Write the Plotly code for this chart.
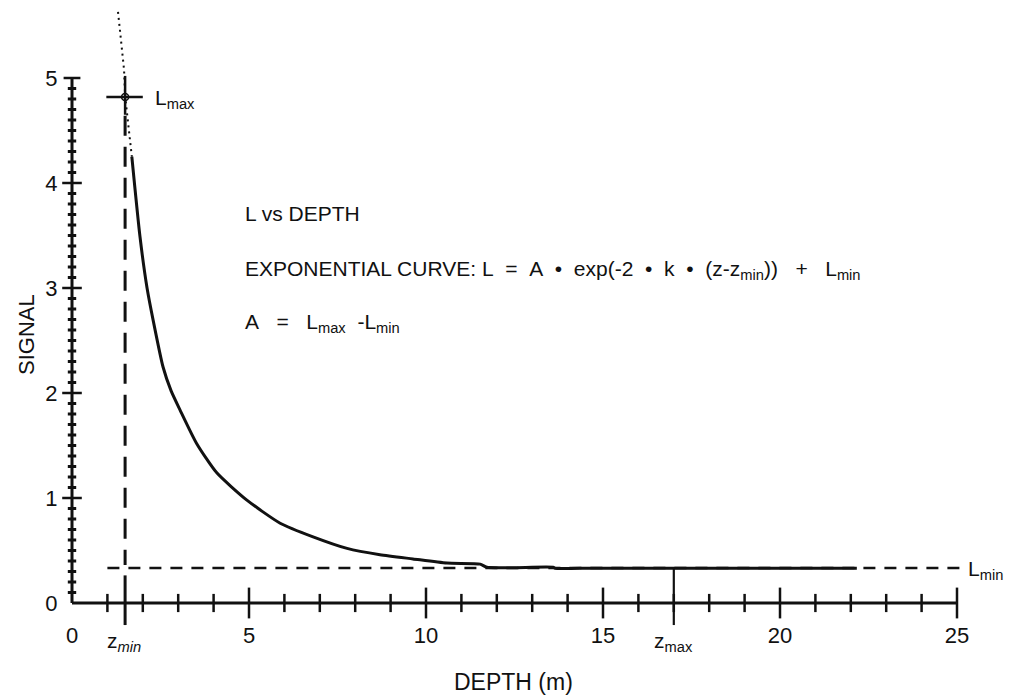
import plotly.graph_objects as go

# ---------------- data ----------------
depth_dotted = [1.30, 1.47, 1.50, 1.60, 1.69]
signal_dotted = [5.63, 5.08, 4.83, 4.52, 4.25]

depth_solid = [1.69, 1.92, 2.12, 2.30, 2.57, 2.80, 3.05, 3.52, 4.09, 4.94, 5.88, 6.81,
               7.77, 8.70, 9.63, 10.59, 11.53, 11.72, 13.59, 13.65, 14.35, 22.17]
signal_solid = [4.25, 3.49, 3.00, 2.68, 2.25, 2.02, 1.84, 1.52, 1.24, 0.98, 0.76, 0.63,
                0.52, 0.46, 0.42, 0.38, 0.37, 0.34, 0.34, 0.33, 0.33, 0.33]

Z_MIN = 1.5
Z_MAX = 17.0
L_MAX = 4.82
L_MIN = 0.333
LMIN_LINE_RANGE = [1.0, 25.1]

x_tick_major = [5, 10, 15, 20, 25]
x_tick_minor = [v for v in range(1, 25) if v % 5 != 0]
x_tick_labels = ["0", "5", "10", "15", "20", "25"]
y_tick_major = [1, 2, 3, 4]
y_tick_minor = [round(i * 0.1, 1) for i in range(1, 50) if i % 10 != 0]
y_tick_labels = ["0", "1", "2", "3", "4", "5"]

# ---------------- geometry of the page (figure sits 8px inside the window) ----------------
W, H = 1008, 692
X0_PX, X_SCALE = 64.0, 35.4     # figure pixel of depth 0, px per metre
Y0_PX, Y_SCALE = 595.0, 105.0   # figure pixel of signal 0, px per unit
x_range = [(0 - X0_PX) / X_SCALE, (W - X0_PX) / X_SCALE]
y_range = [(Y0_PX - H) / Y_SCALE, Y0_PX / Y_SCALE]

FONT = "Liberation Sans, Arial, Helvetica, sans-serif"
BLACK = "#111111"

fig = go.Figure()

# curve
fig.add_trace(go.Scatter(x=depth_dotted, y=signal_dotted, mode="lines",
                         line=dict(color=BLACK, width=2, dash="2px,4px"),
                         hoverinfo="skip", showlegend=False))
fig.add_trace(go.Scatter(x=depth_solid, y=signal_solid, mode="lines",
                         line=dict(color=BLACK, width=3, shape="spline", smoothing=0.6),
                         hoverinfo="skip", showlegend=False))

# axes lines
fig.add_shape(type="line", x0=0, x1=25, y0=0, y1=0, line=dict(color=BLACK, width=3))
fig.add_shape(type="line", x0=0, x1=0, y0=0, y1=5, line=dict(color=BLACK, width=3))

# x tick marks (crossing)
fig.add_trace(go.Scatter(x=x_tick_minor, y=[0] * len(x_tick_minor), mode="markers",
                         marker=dict(symbol="line-ns", size=13, line=dict(color=BLACK, width=2.5)),
                         hoverinfo="skip", showlegend=False))
fig.add_trace(go.Scatter(x=x_tick_major, y=[0] * len(x_tick_major), mode="markers",
                         marker=dict(symbol="line-ns", size=22, line=dict(color=BLACK, width=2.5)),
                         hoverinfo="skip", showlegend=False))
# y tick marks
fig.add_trace(go.Scatter(x=[0] * len(y_tick_minor), y=y_tick_minor, mode="markers",
                         marker=dict(symbol="line-ew", size=6, line=dict(color=BLACK, width=3)),
                         hoverinfo="skip", showlegend=False))
fig.add_trace(go.Scatter(x=[0] * len(y_tick_major), y=y_tick_major, mode="markers",
                         marker=dict(symbol="line-ew", size=14, line=dict(color=BLACK, width=2.5)),
                         hoverinfo="skip", showlegend=False))
fig.add_trace(go.Scatter(x=[0], y=[5], mode="markers",
                         marker=dict(symbol="line-ew", size=12, line=dict(color=BLACK, width=2.5)),
                         hoverinfo="skip", showlegend=False))

# L_min dashed line
fig.add_shape(type="line", x0=LMIN_LINE_RANGE[0], x1=LMIN_LINE_RANGE[1], y0=L_MIN, y1=L_MIN,
              line=dict(color=BLACK, width=2.5, dash="12px,9px"))
# z_min dashed vertical and solid foot
fig.add_shape(type="line", x0=Z_MIN, x1=Z_MIN, y0=L_MAX - 0.18, y1=L_MIN + 0.03,
              line=dict(color=BLACK, width=3, dash="20px,11px"))
fig.add_shape(type="line", x0=Z_MIN, x1=Z_MIN, y0=L_MIN - 0.07, y1=-0.21,
              line=dict(color=BLACK, width=3))
# z_max solid vertical
fig.add_shape(type="line", x0=Z_MAX, x1=Z_MAX, y0=L_MIN, y1=-0.21,
              line=dict(color=BLACK, width=2.2))
# L_max crosshair
fig.add_shape(type="line", x0=Z_MIN - 0.53, x1=Z_MIN + 0.5, y0=L_MAX, y1=L_MAX,
              line=dict(color=BLACK, width=2.5))
fig.add_shape(type="line", x0=Z_MIN, x1=Z_MIN, y0=L_MAX + 0.2, y1=L_MAX - 0.17,
              line=dict(color=BLACK, width=2.5))
fig.add_trace(go.Scatter(x=[Z_MIN], y=[L_MAX], mode="markers",
                         marker=dict(symbol="circle", size=7, color="white",
                                     line=dict(color=BLACK, width=1.5)),
                         hoverinfo="skip", showlegend=False))

# labels
def ann(x, y, text, size, xanchor="left", xref="x", yref="y", **kw):
    fig.add_annotation(x=x, y=y, xref=xref, yref=yref, text=text, showarrow=False,
                       xanchor=xanchor, yanchor="middle",
                       font=dict(family=FONT, size=size, color=BLACK), **kw)

NB = "&#160;"
BUL = NB * 2 + "•" + NB * 2
ann(Z_MIN + 0.8, L_MAX - 0.02, "L<sub>max</sub>", 21)
ann(LMIN_LINE_RANGE[1] + 0.15, L_MIN - 0.02, "L<sub>min</sub>", 21)
ann(Z_MIN - 0.03, -0.37, "z<sub><i>min</i></sub>", 21, xanchor="center")
ann(Z_MAX, -0.37, "z<sub>max</sub>", 21, xanchor="center")

TX = 4.83
ann(TX, 3.71, "L vs DEPTH", 21)
ann(TX, 3.17,
    "EXPONENTIAL CURVE:" + NB + "L" + NB * 2 + "=" + NB * 2 + "A" + BUL + "exp(-2"
    + BUL + "k" + BUL + "(z-z<sub>min</sub>))" + NB * 3 + "+" + NB * 3
    + "L<sub>min</sub>", 21)
ann(TX, 2.67, "A" + NB * 3 + "=" + NB * 3 + "L<sub>max</sub>" + NB * 2 + "-L<sub>min</sub>", 21)

ann(18 / W, 1 - 327 / H, "SIGNAL", 22, xanchor="center", xref="paper", yref="paper",
    textangle=-90)
ann(505 / W, 1 - 674 / H, "DEPTH (m)", 23, xanchor="center", xref="paper", yref="paper")

fig.update_layout(
    width=W, height=H,
    margin=dict(l=0, r=0, t=0, b=0),
    paper_bgcolor="white", plot_bgcolor="white",
    xaxis=dict(range=x_range, showgrid=False, zeroline=False, showline=False,
               anchor="free", position=(H - Y0_PX) / H,
               tickmode="array", tickvals=[0] + x_tick_major, ticktext=x_tick_labels,
               ticks="outside", ticklen=13, tickcolor="rgba(0,0,0,0)",
               tickfont=dict(family=FONT, size=22, color=BLACK)),
    yaxis=dict(range=y_range, showgrid=False, zeroline=False, showline=False,
               anchor="free", position=X0_PX / W,
               tickmode="array", tickvals=[0, 1, 2, 3, 4, 5], ticktext=y_tick_labels,
               ticks="outside", ticklen=10, tickcolor="rgba(0,0,0,0)",
               tickfont=dict(family=FONT, size=22, color=BLACK)),
    showlegend=False,
)

fig.write_html("out.html")
